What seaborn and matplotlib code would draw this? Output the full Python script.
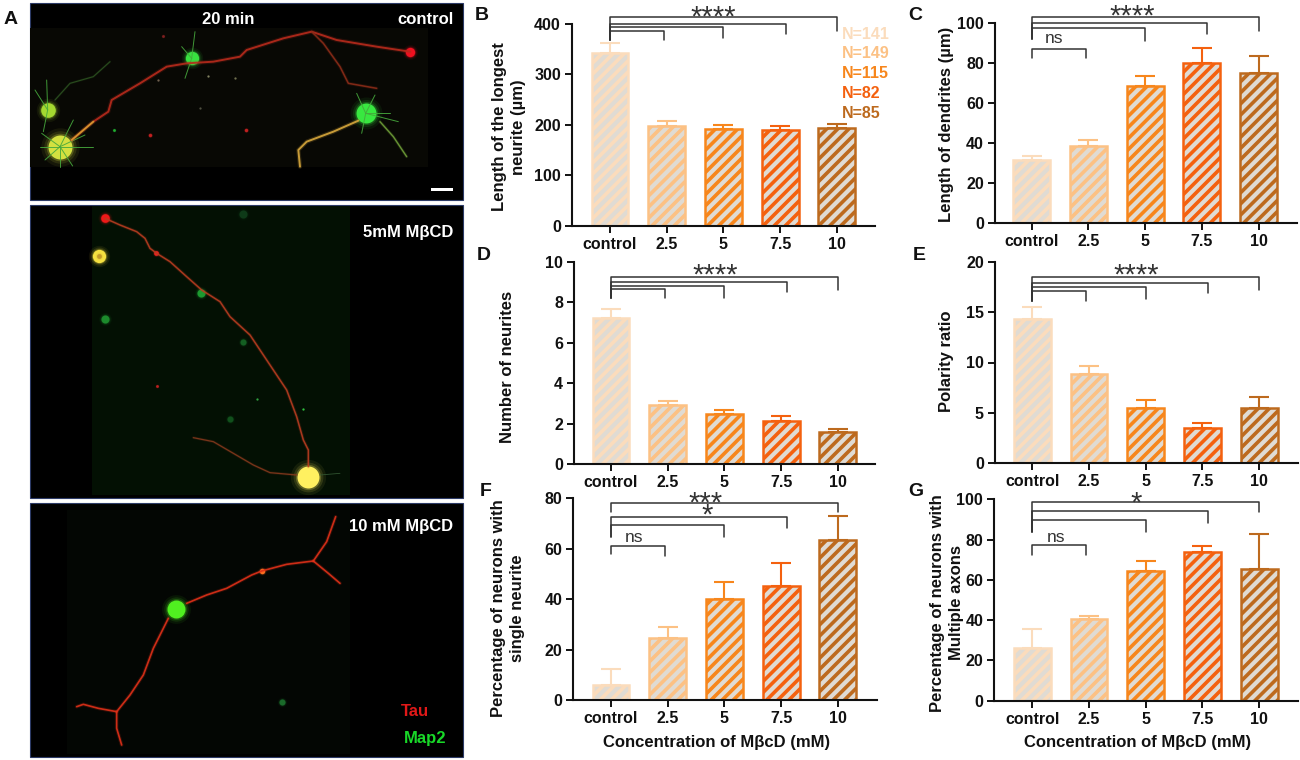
import matplotlib
matplotlib.use("Agg")
import matplotlib.pyplot as plt
from matplotlib.patches import Rectangle
import pandas as pd
import seaborn as sns

sns.set_style("ticks")
plt.rcParams['font.family'] = ['Liberation Sans', 'DejaVu Sans']
plt.rcParams['hatch.linewidth'] = 2.6

W, H = 1300, 760

categories = ['control', '2.5', '5', '7.5', '10']
bar_colors = ['#fbdcbc', '#fcc184', '#f7861c', '#f4610f', '#bd6a1e']
hatch_bg = '#e0dbd3'
n_labels = ['N=141', 'N=149', 'N=115', 'N=82', 'N=85']

# bar heights and the top of the error caps
length_longest = [343, 197, 191, 189, 193]
length_longest_caps = [362, 208, 200, 198, 202]
length_dendrites = [31.5, 38.5, 68.5, 80, 75]
length_dendrites_caps = [33.5, 41.5, 73.5, 87.5, 83.5]
neurite_count = [7.2, 2.9, 2.45, 2.15, 1.6]
neurite_count_caps = [7.65, 3.12, 2.68, 2.36, 1.75]
polarity = [14.3, 8.9, 5.5, 3.5, 5.5]
polarity_caps = [15.5, 9.7, 6.3, 4.0, 6.6]
single_neurite = [6, 24.5, 40, 45.3, 63.5]
single_neurite_caps = [12.2, 29, 47, 54.2, 73]
multiple_axons = [26, 40.5, 64.5, 74, 65.5]
multiple_axons_caps = [35.5, 42, 69.5, 77, 82.7]

# significance brackets: (end x, left stem bottom, bar height, right stem bottom)
brackets_b = [(4.0, 368, 414.5, 386.8), (3.1, 368, 400, 379.5), (2.0, 368, 394.6, 371.6), (0.95, 368, 386.8, 368)]
brackets_c = [(4.0, 92, 103.3, 96.3), (3.1, 92, 100, 94.5), (2.0, 92, 97.5, 91.3), (0.95, 82.8, 87.1, 82.8)]
brackets_d = [(4.0, 8.2, 9.26, 8.6), (3.1, 8.2, 8.98, 8.49), (2.0, 8.2, 8.8, 8.22), (0.95, 8.2, 8.65, 8.19)]
brackets_e = [(4.0, 16.1, 18.5, 17.2), (3.1, 16.1, 17.9, 16.9), (2.0, 16.1, 17.5, 16.3), (0.95, 16.1, 17.1, 16.1)]
brackets_f = [(4.0, 74.4, 78, 74.7), (3.1, 64.8, 72.7, 68.3), (2.0, 64.8, 69.4, 64.8), (0.95, 57.9, 61.2, 57.2)]
brackets_g = [(4.0, 83.6, 98.5, 93.5), (3.1, 83.6, 94.2, 88.4), (2.0, 83.6, 89.7, 83.6), (0.95, 72.3, 77.3, 72.3)]

# (x, y, text) above the brackets
marks_b = [(1.82, 423, '****')]
marks_c = [(1.77, 106, '****'), (0.4, 92.5, 'ns')]
marks_d = [(1.84, 9.56, '****')]
marks_e = [(1.83, 19.1, '****')]
marks_f = [(1.67, 80, '***'), (1.7, 75.1, '*'), (0.41, 64.5, 'ns')]
marks_g = [(1.83, 100.5, '*'), (0.42, 81, 'ns')]

# micrograph traces, in crop coordinates (3x zoom of the picture)
neuron1_axon = [(215, 420), (280, 365), (325, 335), (335, 300), (420, 250), (500, 200), (560, 190), (640, 185),
                (720, 170), (740, 150), (850, 115), (935, 95), (1010, 120), (1130, 140), (1230, 155)]
neuron1_branch = [(935, 95), (970, 130), (1020, 200), (1045, 250), (1130, 265)]
neuron1_yellow = [(1075, 362), (1000, 395), (920, 425), (895, 450), (900, 500)]
neuron1_green = [(1140, 365), (1180, 410), (1220, 470)]
neuron1_dim = [(165, 300), (210, 250), (280, 230), (330, 185)]
neuron1_spikes = [(180, 440, 125, 400), (180, 440, 120, 440), (180, 440, 135, 480), (180, 440, 180, 500),
                  (180, 440, 218, 498), (180, 440, 280, 440), (180, 440, 255, 405), (180, 440, 220, 360),
                  (143, 330, 105, 270), (143, 330, 140, 240), (143, 330, 130, 395),
                  (575, 175, 545, 140), (575, 175, 585, 95), (575, 175, 555, 235),
                  (1097, 340, 1070, 280), (1097, 340, 1125, 285), (1097, 340, 1195, 365), (1097, 340, 1170, 340),
                  (1097, 340, 1085, 400)]
neuron1_somas = [(180, 440, 36, '#d4e040'), (143, 330, 22, '#a4d830'), (575, 175, 20, '#38e040'), (1097, 340, 30, '#38e840')]
neuron1_dots = [(450, 405, 5, '#c02020'), (737, 390, 5, '#c02020'), (490, 108, 4, '#802020'), (343, 390, 4, '#20b030'),
                (705, 235, 3, '#707050'), (625, 228, 3, '#808060'), (475, 240, 3, '#706050'), (600, 325, 3, '#505040'),
                (1230, 155, 14, '#f01020')]

neuron2_axon = [(255, 55), (300, 75), (350, 95), (375, 115), (390, 145), (410, 160), (450, 185), (500, 230),
                (545, 270), (600, 305), (630, 350), (690, 405), (740, 480), (800, 570), (830, 650), (850, 720),
                (865, 750), (865, 800)]
neuron2_branch = [(520, 713), (580, 725), (640, 760), (700, 795), (750, 818), (830, 825)]
neuron2_dim = [(900, 825), (960, 820)]
neuron2_blobs = [(255, 358, 12, '#1c8a2c'), (543, 280, 12, '#1c9a30'), (670, 425, 9, '#145f22'), (630, 658, 9, '#11501c'),
                 (670, 42, 12, '#0e3a18'), (412, 558, 4, '#c02020'), (848, 628, 3, '#30c040'), (712, 598, 3, '#30a040'),
                 (407, 160, 7, '#f02020'), (255, 55, 13, '#f01818')]

neuron3_axon = [(445, 370), (430, 400), (400, 460), (370, 540), (330, 600), (290, 650)]
neuron3_left = [(290, 650), (235, 640), (190, 628), (170, 635)]
neuron3_down = [(290, 650), (290, 700), (305, 750)]
neuron3_up = [(500, 325), (560, 300), (620, 280), (695, 240), (725, 228), (800, 208), (880, 198)]
neuron3_top = [(880, 198), (920, 140), (947, 65)]
neuron3_right = [(880, 198), (925, 235), (960, 265)]


def axes_box(fig, left, top, right, bottom):
    return fig.add_axes([left / W, 1 - bottom / H, (right - left) / W, (bottom - top) / H])


def draw_panel(fig, box, values, caps, ymax, yticks, ylabel, label_xy, brackets, marks, first_bar, xlabel_xy=None):
    left, top, right, bottom = box
    ax = axes_box(fig, left, top, right, bottom)
    ax.patch.set_alpha(0)
    df = pd.DataFrame({'conc': categories, 'value': values})
    sns.barplot(data=df, x='conc', y='value', hue='conc', order=categories, hue_order=categories,
                palette=bar_colors, errorbar=None, width=0.65, legend=False, ax=ax)
    for bar, col in zip(ax.patches, bar_colors):
        bar.set(facecolor=hatch_bg, edgecolor=col, hatch='///', linewidth=1.8)
    for i, col in enumerate(bar_colors):
        ax.errorbar(i, values[i], yerr=[[0], [caps[i] - values[i]]], color=col, elinewidth=1.5,
                    capsize=7, capthick=1.5, zorder=1)

    spacing = 56.7
    ax.set_xlim((left - first_bar) / spacing, (right - first_bar) / spacing)
    ax.set_ylim(0, ymax)
    ax.set_yticks(yticks)
    sns.despine(ax=ax)
    for side in ['left', 'bottom']:
        ax.spines[side].set_linewidth(1.5)
        ax.spines[side].set_color('#111111')
    ax.tick_params(length=5, width=1.4, pad=3, labelsize=11.5, colors='#111111')
    for lab in ax.get_xticklabels() + ax.get_yticklabels():
        lab.set_fontweight('bold')

    for end_x, low, level, drop in brackets:
        ax.plot([0, 0, end_x, end_x], [low, level, level, drop], color='#333333', lw=1.1, clip_on=False, zorder=5)
    for x, y, txt in marks:
        if '*' in txt:
            # the asterisk sits high in its glyph box, so pull it down
            ax.annotate(txt, (x, y), xytext=(0, -3.5), textcoords='offset points', ha='center', va='center',
                        fontsize=21, color='#333333', annotation_clip=False)
        else:
            ax.text(x, y, txt, ha='center', va='center', fontsize=12.5, color='#333333', clip_on=False)

    ax.set_ylabel(ylabel, fontsize=12, fontweight='bold', color='#111111', linespacing=1.3, va='center')
    ax.yaxis.set_label_coords((label_xy[0] - left) / (right - left), (bottom - label_xy[1]) / (bottom - top))
    if xlabel_xy:
        ax.set_xlabel('Concentration of MβcD (mM)', fontsize=12, fontweight='bold', color='#111111', va='center')
        ax.xaxis.set_label_coords((xlabel_xy[0] - left) / (right - left), (bottom - xlabel_xy[1]) / (bottom - top))
    else:
        ax.set_xlabel('')
    return ax


def crop(points, ox, oy):
    xs = [ox + p[0] / 3 for p in points]
    ys = [oy + p[1] / 3 for p in points]
    return xs, ys


def trace(ax, points, ox, oy, color, lw=1.0, glow=True):
    xs, ys = crop(points, ox, oy)
    if glow:
        ax.plot(xs, ys, color=color, lw=lw * 2.2, alpha=0.18, solid_capstyle='round')
    ax.plot(xs, ys, color=color, lw=lw, solid_capstyle='round', alpha=0.9)


def blob(ax, x, y, r, color, ox, oy):
    # r is in crop pixels, marker area in points^2; soft edge from stacked discs
    d = 2 * r / 3 * 0.72
    for grow, alpha in [(1.6, 0.07), (1.35, 0.12), (1.15, 0.25), (1.0, 1.0)]:
        ax.scatter(ox + x / 3, oy + y / 3, s=(d * grow) ** 2, color=color, alpha=alpha, linewidths=0)


def draw_micrographs(fig):
    ax = fig.add_axes([0, 0, 1, 1])
    ax.set_xlim(0, W)
    ax.set_ylim(H, 0)
    ax.axis('off')

    # black frames and the slightly lighter image areas inside them
    for x0, y0, x1, y1, inner in [(30, 3, 463, 200, (30, 28, 428, 167, '#080804')),
                                  (30, 205, 463, 498, (92, 206, 350, 495, '#031003')),
                                  (30, 503, 463, 757, (67, 510, 350, 754, '#030603'))]:
        ax.add_patch(Rectangle((x0, y0), x1 - x0, y1 - y0, facecolor='black', edgecolor='#2c3a66', lw=0.8))
        ax.add_patch(Rectangle((inner[0], inner[1]), inner[2] - inner[0], inner[3] - inner[1],
                               facecolor=inner[4], edgecolor='none'))

    # control neuron
    for x0, y0, x1, y1 in neuron1_spikes:
        trace(ax, [(x0, y0), (x1, y1)], 0, 0, '#46a83c', lw=0.7, glow=False)
    trace(ax, neuron1_dim, 0, 0, '#2c5220', lw=0.8)
    trace(ax, neuron1_axon, 0, 0, '#b82a1c', lw=1.4)
    trace(ax, neuron1_axon[:2], 0, 0, '#d8a030', lw=1.2)
    trace(ax, neuron1_branch, 0, 0, '#8c2c18', lw=1.1)
    trace(ax, neuron1_yellow, 0, 0, '#d8a83c', lw=1.4)
    trace(ax, neuron1_green, 0, 0, '#70a038', lw=1.0)
    for x, y, r, col in neuron1_somas:
        blob(ax, x, y, r, col, 0, 0)
    for x, y, r, col in neuron1_dots:
        blob(ax, x, y, r, col, 0, 0)

    # 5 mM
    for x, y, r, col in neuron2_blobs:
        blob(ax, x, y, r, col, 20, 200)
    trace(ax, neuron2_axon, 20, 200, '#b83c20', lw=1.1)
    trace(ax, neuron2_branch, 20, 200, '#84381c', lw=0.9)
    trace(ax, neuron2_dim, 20, 200, '#345a34', lw=0.6, glow=False)
    blob(ax, 865, 830, 33, '#fff060', 20, 200)
    blob(ax, 237, 168, 20, '#f4e040', 20, 200)
    blob(ax, 237, 168, 7, '#c09828', 20, 200)

    # 10 mM
    for seg in [neuron3_axon, neuron3_left, neuron3_down, neuron3_up, neuron3_top, neuron3_right]:
        trace(ax, seg, 20, 495, '#e03018', lw=1.2)
    blob(ax, 468, 342, 27, '#50f020', 20, 495)
    blob(ax, 727, 228, 8, '#ff7020', 20, 495)
    blob(ax, 785, 620, 9, '#1a6a2a', 20, 495)

    # scale bar and the image captions
    ax.add_patch(Rectangle((431, 187.5), 22, 3.5, facecolor='white', edgecolor='none'))
    caption = dict(color='white', fontsize=12, fontweight='bold', va='center')
    ax.text(228, 20, '20 min', ha='center', **caption)
    ax.text(454, 20, 'control', ha='right', **caption)
    ax.text(453, 232, '5mM MβCD', ha='right', **caption)
    ax.text(453, 526, '10 mM MβCD', ha='right', **caption)
    ax.text(415, 712, 'Tau', ha='center', va='center', color='#e01818', fontsize=12, fontweight='bold')
    ax.text(425, 738, 'Map2', ha='center', va='center', color='#18d828', fontsize=12, fontweight='bold')

    # panel letters
    for x, y, letter in [(4, 20, 'A'), (475, 16, 'B'), (908, 16, 'C'), (477, 255, 'D'),
                         (913, 256, 'E'), (480, 492, 'F'), (908, 492, 'G')]:
        ax.text(x, y, letter, ha='left', va='center', fontsize=14, fontweight='bold', color='#111111')

    # N counts from panel B
    for y, txt, col in zip([34.3, 53.3, 73.3, 94, 113.3], n_labels, bar_colors):
        ax.text(842, y, txt, ha='left', va='center', fontsize=11.5, fontweight='bold', color=col)


def main():
    fig = plt.figure(figsize=(13, 7.6), dpi=100)
    fig.patch.set_facecolor('white')

    draw_micrographs(fig)

    draw_panel(fig, (572, 24, 875, 225.7), length_longest, length_longest_caps, 400, [0, 100, 200, 300, 400],
               'Length of the longest\nneurite (µm)', (509, 127), brackets_b, marks_b, 610)
    draw_panel(fig, (995, 23.3, 1297, 222.7), length_dendrites, length_dendrites_caps, 100, [0, 20, 40, 60, 80, 100],
               'Length of dendrites (µm)', (947, 124), brackets_c, marks_c, 1031.7)
    draw_panel(fig, (574, 261.7, 875, 464), neurite_count, neurite_count_caps, 10, [0, 2, 4, 6, 8, 10],
               'Number of neurites', (507, 367), brackets_d, marks_d, 611)
    draw_panel(fig, (995, 261.7, 1298, 463.3), polarity, polarity_caps, 20, [0, 5, 10, 15, 20],
               'Polarity ratio', (947, 361), brackets_e, marks_e, 1032.3)
    draw_panel(fig, (573.3, 498.3, 876.7, 700), single_neurite, single_neurite_caps, 80, [0, 20, 40, 60, 80],
               'Percentage of neurons with\nsingle neurite', (508, 608), brackets_f, marks_f, 611, (716.7, 742))
    draw_panel(fig, (994.3, 499.3, 1298, 700.7), multiple_axons, multiple_axons_caps, 100, [0, 20, 40, 60, 80, 100],
               'Percentage of neurons with\nMultiple axons', (947, 603), brackets_g, marks_g, 1032.3, (1138, 743))

    fig.savefig('out.png', dpi=100)
    plt.close(fig)


if __name__ == "__main__":
    main()
